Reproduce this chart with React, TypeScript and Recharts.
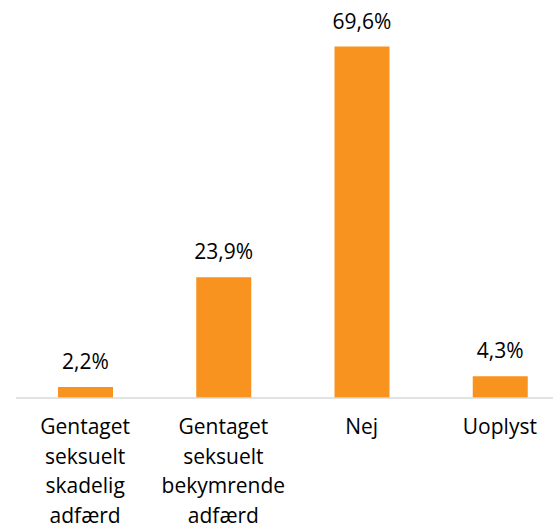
import React from "react";
import { BarChart, Bar, XAxis, YAxis, LabelList } from "recharts";

const categories = [
  "Gentaget seksuelt skadelig adfærd",
  "Gentaget seksuelt bekymrende adfærd",
  "Nej",
  "Uoplyst",
];
const values = [2.2, 23.9, 69.6, 4.3];

const data = categories.map((c, i) => ({ name: c, value: values[i] }));

const FONT = "'Open Sans', 'Liberation Sans', sans-serif";

const fmt = (v: any) => `${String(Number(v).toFixed(1)).replace(".", ",")}%`;

const Tick = (props: any) => {
  const { x, y, payload } = props;
  const words = String(payload.value).split(" ");
  return (
    <text x={x} y={y} textAnchor="middle" fontFamily={FONT} fontSize={21} fill="#000">
      {words.map((w, i) => (
        <tspan key={i} x={x} dy={i === 0 ? 28 : 29.5}>
          {w}
        </tspan>
      ))}
    </text>
  );
};

export default function App() {
  return (
    <div style={{ position: "absolute", left: 0, top: 0, width: 553, height: 526, overflow: "hidden", background: "#fff" }}>
      <BarChart
        width={570}
        height={526}
        data={data}
        margin={{ top: 44.6, right: 1, bottom: 0, left: 16 }}
        barCategoryGap={0}
      >
        <XAxis
          dataKey="name"
          tickLine={false}
          axisLine={{ stroke: "#d9d9d9", strokeWidth: 1.5 }}
          height={128}
          interval={0}
          tick={<Tick />}
        />
        <YAxis hide domain={[0, 70]} />
        <Bar dataKey="value" fill="#F7931E" barSize={55} isAnimationActive={false}>
          <LabelList
            dataKey="value"
            position="top"
            offset={18}
            formatter={fmt}
            style={{ fontFamily: FONT, fontSize: 21, fill: "#000" }}
          />
        </Bar>
      </BarChart>
    </div>
  );
}
